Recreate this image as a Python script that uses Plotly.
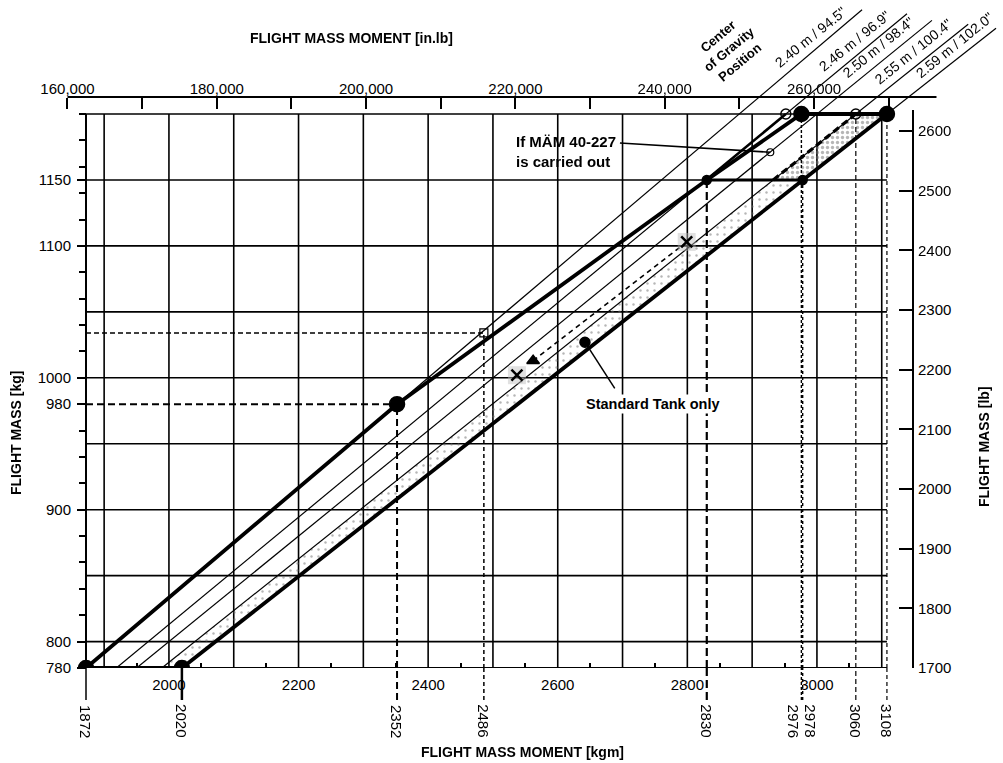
import plotly.graph_objects as go

# ---------------- chart values ----------------
CG_ARMS_M = [2.40, 2.46, 2.50, 2.55, 2.59]          # constant centre-of-gravity arms

ENVELOPE_KGM = [1872, 2352, 2830, 2976, 3108, 2020, 1872]
ENVELOPE_KG = [780, 980, 1150, 1200, 1200, 780, 780]

MAX_1150_KGM = [2830, 2978]
MAX_1150_KG = [1150, 1150]

CORNER_KGM = [1872, 2020, 2352, 2976, 3108]
CORNER_KG = [780, 780, 980, 1200, 1200]
STEP_KGM = [2830, 2978]
STEP_KG = [1150, 1150]
ARM_END_KGM = [2952, 3060]
ARM_END_KG = [1200, 1200]

# moments marked below the bottom axis and the mass each one is read at
REF_KGM = [1872, 2020, 2352, 2486, 2830, 2976, 2978, 3060, 3108]
REF_KG = [780, 780, 980, 1034, 1150, 1200, 1150, 1200, 1200]
READ_KGM = [2352, 2486]
READ_KG = [980, 1034]

STD_TANK_KGM = [2562, 2799]
STD_TANK_KG = [1013, 1103]
CROSS_KGM = [2537, 2799]
CROSS_KG = [1002, 1103]
STD_NOTE_KGM = [2642, 2688]
STD_NOTE_KG = [1027, 992]
MAM_NOTE_KGM = [2696, 2928]
MAM_NOTE_KG = [1178, 1171]

GRID_KGM = list(range(1900, 3101, 100))
GRID_KG = list(range(800, 1201, 50))
KGM_TICKS = list(range(2000, 3001, 200))
KGM_MINOR = list(range(1950, 3051, 100))
KG_TICKS = [780, 800, 900, 980, 1000, 1100, 1150]
KG_MINOR = [v for v in range(780, 1201, 20) if v not in KG_TICKS]
LB_TICKS = list(range(1700, 2601, 100))
INLB_TICKS = list(range(160000, 270001, 10000))

MASS_MIN, MASS_STD_MAX, MASS_MAX = 780, 1150, 1200
KGM_TO_INLB = 86.796
M_TO_IN = 39.3701

# ---------------- page geometry ----------------
W, H = 1003, 763
PAPER_BOTTOM = 700                 # pixel row of the paper's lower edge
X_ORIGIN_PX, Y_ORIGIN_PX = 86, 668 # pixel of the envelope's lower-left corner
PX_PER_KGM, PX_PER_KG = 0.648, 1.319
PX_PER_LB = 0.5967
LEADER_END_KG = [1279, 1276, 1271, 1268, 1265]
LABEL_KG = [1251, 1248, 1243, 1240, 1245]

FONT = "Liberation Sans, Arial, sans-serif"
INK = "black"

x0 = REF_KGM[0]
x_range = [x0 - X_ORIGIN_PX / PX_PER_KGM, x0 + (W - X_ORIGIN_PX) / PX_PER_KGM]
y_range = [MASS_MIN, MASS_MIN + Y_ORIGIN_PX / PX_PER_KG]
y_dom0 = (PAPER_BOTTOM - Y_ORIGIN_PX) / PAPER_BOTTOM
lb_range = [1700, 1700 + Y_ORIGIN_PX / PX_PER_LB]


def prow(px):
    return (PAPER_BOTTOM - px) / PAPER_BOTTOM


def pcol(px):
    return px / W


fig = go.Figure()


def seg(x, y, width=1.2, dash="solid", color=INK):
    fig.add_trace(go.Scatter(x=x, y=y, mode="lines",
                             line=dict(color=color, width=width, dash=dash),
                             hoverinfo="skip", showlegend=False))


# stippled aft band (standard tank only region)
a_fwd, a_aft = CG_ARMS_M[3], CG_ARMS_M[4]
for lo, hi, sol, sz in [(MASS_MIN, MASS_STD_MAX, 0.10, 7), (MASS_STD_MAX, MASS_MAX, 0.35, 5)]:
    fig.add_trace(go.Scatter(
        x=[a_fwd * lo, a_fwd * hi, a_aft * hi, a_aft * lo, a_fwd * lo],
        y=[lo, hi, hi, lo, lo], mode="lines", fill="toself",
        fillcolor="rgba(0,0,0,0)", line=dict(width=0),
        fillpattern=dict(shape=".", fgcolor="#6e6e6e", bgcolor="rgba(0,0,0,0)",
                         size=sz, solidity=sol),
        hoverinfo="skip", showlegend=False))

# constant-arm lines with their leaders
for arm, top in zip(CG_ARMS_M, LEADER_END_KG):
    seg([arm * MASS_MIN, arm * top], [MASS_MIN, top], width=1.2)
seg([CG_ARMS_M[1] * MASS_STD_MAX, CG_ARMS_M[1] * MASS_MAX], [MASS_STD_MAX, MASS_MAX], width=2.6)
seg([a_fwd * MASS_STD_MAX, a_fwd * MASS_MAX], [MASS_STD_MAX, MASS_MAX], width=3.2, dash="7px,4px")

# read-off lines
ref_style = {1872: (1.5, "solid"), 2020: (2.5, "solid"), 2352: (2.0, "7px,4px"),
             2486: (1.5, "4px,3px"), 2830: (2.2, "8px,4px"), 2976: (1.4, "3px,2px"),
             2978: (1.4, "3px,3px"), 3060: (1.2, "5px,3px"), 3108: (1.2, "4px,3px")}
for v, kg in zip(REF_KGM, REF_KG):
    w, d = ref_style[v]
    if kg > MASS_MIN:
        seg([v, v], [MASS_MIN, kg], width=w, dash=d)
for v, kg, d in zip(READ_KGM, READ_KG, ["7px,4px", "5px,3px"]):
    seg([x0, v], [kg, kg], width=2.0 if kg == 980 else 1.5, dash=d)

# standard-tank dashed trace
seg(STD_TANK_KGM, STD_TANK_KG, width=1.6, dash="5px,4px")

# envelope
seg(ENVELOPE_KGM, ENVELOPE_KG, width=3.8)
seg(MAX_1150_KGM, MAX_1150_KG, width=3.0)

# callout leaders
seg(STD_NOTE_KGM, STD_NOTE_KG, width=1.5)
seg(MAM_NOTE_KGM, MAM_NOTE_KG, width=1.6)

# markers
def mk(x, y, symbol, size, color=INK, lw=1.5, opacity=1.0):
    fig.add_trace(go.Scatter(x=x, y=y, mode="markers", opacity=opacity,
                             marker=dict(symbol=symbol, size=size, color=color,
                                         line=dict(color=color, width=lw)),
                             hoverinfo="skip", showlegend=False))

mk(CROSS_KGM, CROSS_KG, "square", 18, color="#bdbdbd", lw=0, opacity=0.45)
mk(CROSS_KGM, CROSS_KG, "x-thin", 11, lw=2.5)
mk([STD_TANK_KGM[0]], [STD_TANK_KG[0]], "triangle-up", 11)
mk([READ_KGM[1]], [READ_KG[1]], "square-open", 8, lw=1.2)
mk(CORNER_KGM, CORNER_KG, "circle", 15)
mk(STEP_KGM, STEP_KG, "circle", 9)
mk(ARM_END_KGM, ARM_END_KG, "circle-open", 10, lw=1.4)
mk([MAM_NOTE_KGM[1]], [MAM_NOTE_KG[1]], "circle-open", 7, lw=1.2)
mk([STD_NOTE_KGM[0]], [STD_NOTE_KG[0]], "circle", 10)

# traces that bind the secondary scales
fig.add_trace(go.Scatter(x=[None], y=[None], xaxis="x2", yaxis="y", showlegend=False, hoverinfo="skip"))
fig.add_trace(go.Scatter(x=[None], y=[None], xaxis="x", yaxis="y2", showlegend=False, hoverinfo="skip"))

# grid and frame
shapes = []
for v in GRID_KGM:
    shapes.append(dict(type="line", xref="x", yref="y", x0=v, x1=v, y0=MASS_MIN, y1=MASS_MAX,
                       line=dict(color=INK, width=1.6), layer="below"))
for kg in GRID_KG:
    shapes.append(dict(type="line", xref="x", yref="y", x0=x0, x1=ENVELOPE_KGM[4], y0=kg, y1=kg,
                       line=dict(color=INK, width=1.6), layer="below"))
shapes.append(dict(type="line", xref="x", yref="y", x0=x0, x1=x0, y0=MASS_MIN, y1=MASS_MAX,
                   line=dict(color=INK, width=2)))
shapes.append(dict(type="line", xref="x", yref="y", x0=x0, x1=ENVELOPE_KGM[4], y0=MASS_MIN, y1=MASS_MIN,
                   line=dict(color=INK, width=2)))
# extensions of the marked moments below the axis
for v in REF_KGM:
    w, d = ref_style[v]
    shapes.append(dict(type="line", xref="x", yref="paper", x0=v, x1=v, y0=0, y1=y_dom0,
                       line=dict(color=INK, width=w, dash=d)))
# top (in.lb) and right (lb) scale lines
shapes.append(dict(type="line", xref="x2", yref="paper", x0=INLB_TICKS[0], x1=276400,
                   y0=prow(97), y1=prow(97), line=dict(color=INK, width=2)))
shapes.append(dict(type="line", xref="paper", yref="y2", x0=pcol(913), x1=pcol(913),
                   y0=LB_TICKS[0], y1=2635, line=dict(color=INK, width=2)))


def note(x, y, text, size=14, angle=0, **kw):
    return dict(x=x, y=y, xref="paper", yref="paper", text=text, textangle=angle,
                showarrow=False, xanchor="center", yanchor="middle",
                font=dict(size=size, family=FONT, color=INK), **kw)


annotations = []
# rotated moment values
label_shift = {2976: -7, 2978: 8}
for v in REF_KGM:
    annotations.append(dict(x=v, y=prow(721), xref="x", yref="paper", text=str(v),
                            textangle=90, showarrow=False, xanchor="center", yanchor="middle",
                            xshift=label_shift.get(v, 0), font=dict(size=15, family=FONT, color=INK)))
# arm labels along the leaders
for arm, kg in zip(CG_ARMS_M, LABEL_KG):
    annotations.append(dict(x=arm * kg, y=kg, xref="x", yref="y",
                            text=f'{arm:.2f} m / {arm * M_TO_IN:.1f}"', textangle=-39,
                            showarrow=False, xshift=-8, yshift=10,
                            xanchor="center", yanchor="middle",
                            font=dict(size=14, family=FONT, color=INK)))
annotations += [
    note(pcol(729), prow(50), "<b>Center<br>of Gravity<br>Position</b>", size=13, angle=-40,
         align="center"),
    note(pcol(351), prow(38), "<b>FLIGHT MASS MOMENT [in.lb]</b>"),
    note(pcol(522), prow(752), "<b>FLIGHT MASS MOMENT [kgm]</b>"),
    note(pcol(16), prow(433), "<b>FLIGHT MASS [kg]</b>", angle=-90),
    note(pcol(984), prow(447), "<b>FLIGHT MASS [lb]</b>", angle=-90),
    note(pcol(652), prow(404), "<b>Standard Tank only</b>", size=14.5, bgcolor="white", borderpad=1),
    dict(x=MAM_NOTE_KGM[0], y=MAM_NOTE_KG[0], xref="x", yref="y", xanchor="right", yanchor="middle",
         text="<b>If MÄM 40-227<br>is carried out</b>", showarrow=False, align="left",
         xshift=-2, yshift=-8, font=dict(size=15, family=FONT, color=INK)),
]

tickfont = dict(size=15, family=FONT, color=INK)
fig.update_layout(
    width=W, height=H, margin=dict(l=0, r=0, t=0, b=H - PAPER_BOTTOM, pad=0, autoexpand=False),
    paper_bgcolor="white", plot_bgcolor="white", showlegend=False,
    shapes=shapes, annotations=annotations,
    xaxis=dict(domain=[0, 1], range=x_range, showgrid=False, zeroline=False, showline=False,
               automargin=False,
               tickmode="array", tickvals=KGM_TICKS, ticks="", ticklabelstandoff=6,
               tickfont=tickfont,
               minor=dict(tickmode="array", tickvals=KGM_MINOR, ticks="inside", ticklen=5,
                          tickwidth=1.5, tickcolor=INK, showgrid=False)),
    yaxis=dict(domain=[y_dom0, 1], range=y_range, showgrid=False, zeroline=False, showline=False,
               automargin=False, anchor="free", position=pcol(X_ORIGIN_PX),
               tickmode="array", tickvals=KG_TICKS, ticks="outside", ticklen=9, tickwidth=1.5,
               tickcolor=INK, tickfont=tickfont, ticklabelstandoff=3,
               minor=dict(tickmode="array", tickvals=KG_MINOR, ticks="outside", ticklen=7,
                          tickwidth=1.5, tickcolor=INK, showgrid=False)),
    xaxis2=dict(overlaying="x", side="top", anchor="free", position=prow(97), automargin=False,
                range=[v * KGM_TO_INLB for v in x_range], showgrid=False, zeroline=False,
                showline=False, tickmode="array", tickvals=INLB_TICKS,
                ticktext=[f"{v:,}" if (v // 10000) % 2 == 0 else "" for v in INLB_TICKS],
                ticks="inside", ticklen=11, tickwidth=1.6, tickcolor=INK, tickfont=tickfont),
    yaxis2=dict(overlaying="y", side="right", anchor="free", position=pcol(913), automargin=False,
                range=lb_range, showgrid=False, zeroline=False, showline=False,
                tickmode="array", tickvals=LB_TICKS, ticks="inside", ticklen=14, tickwidth=2,
                tickcolor=INK, tickfont=tickfont, ticklabelstandoff=4),
)

fig.write_html("out.html")
